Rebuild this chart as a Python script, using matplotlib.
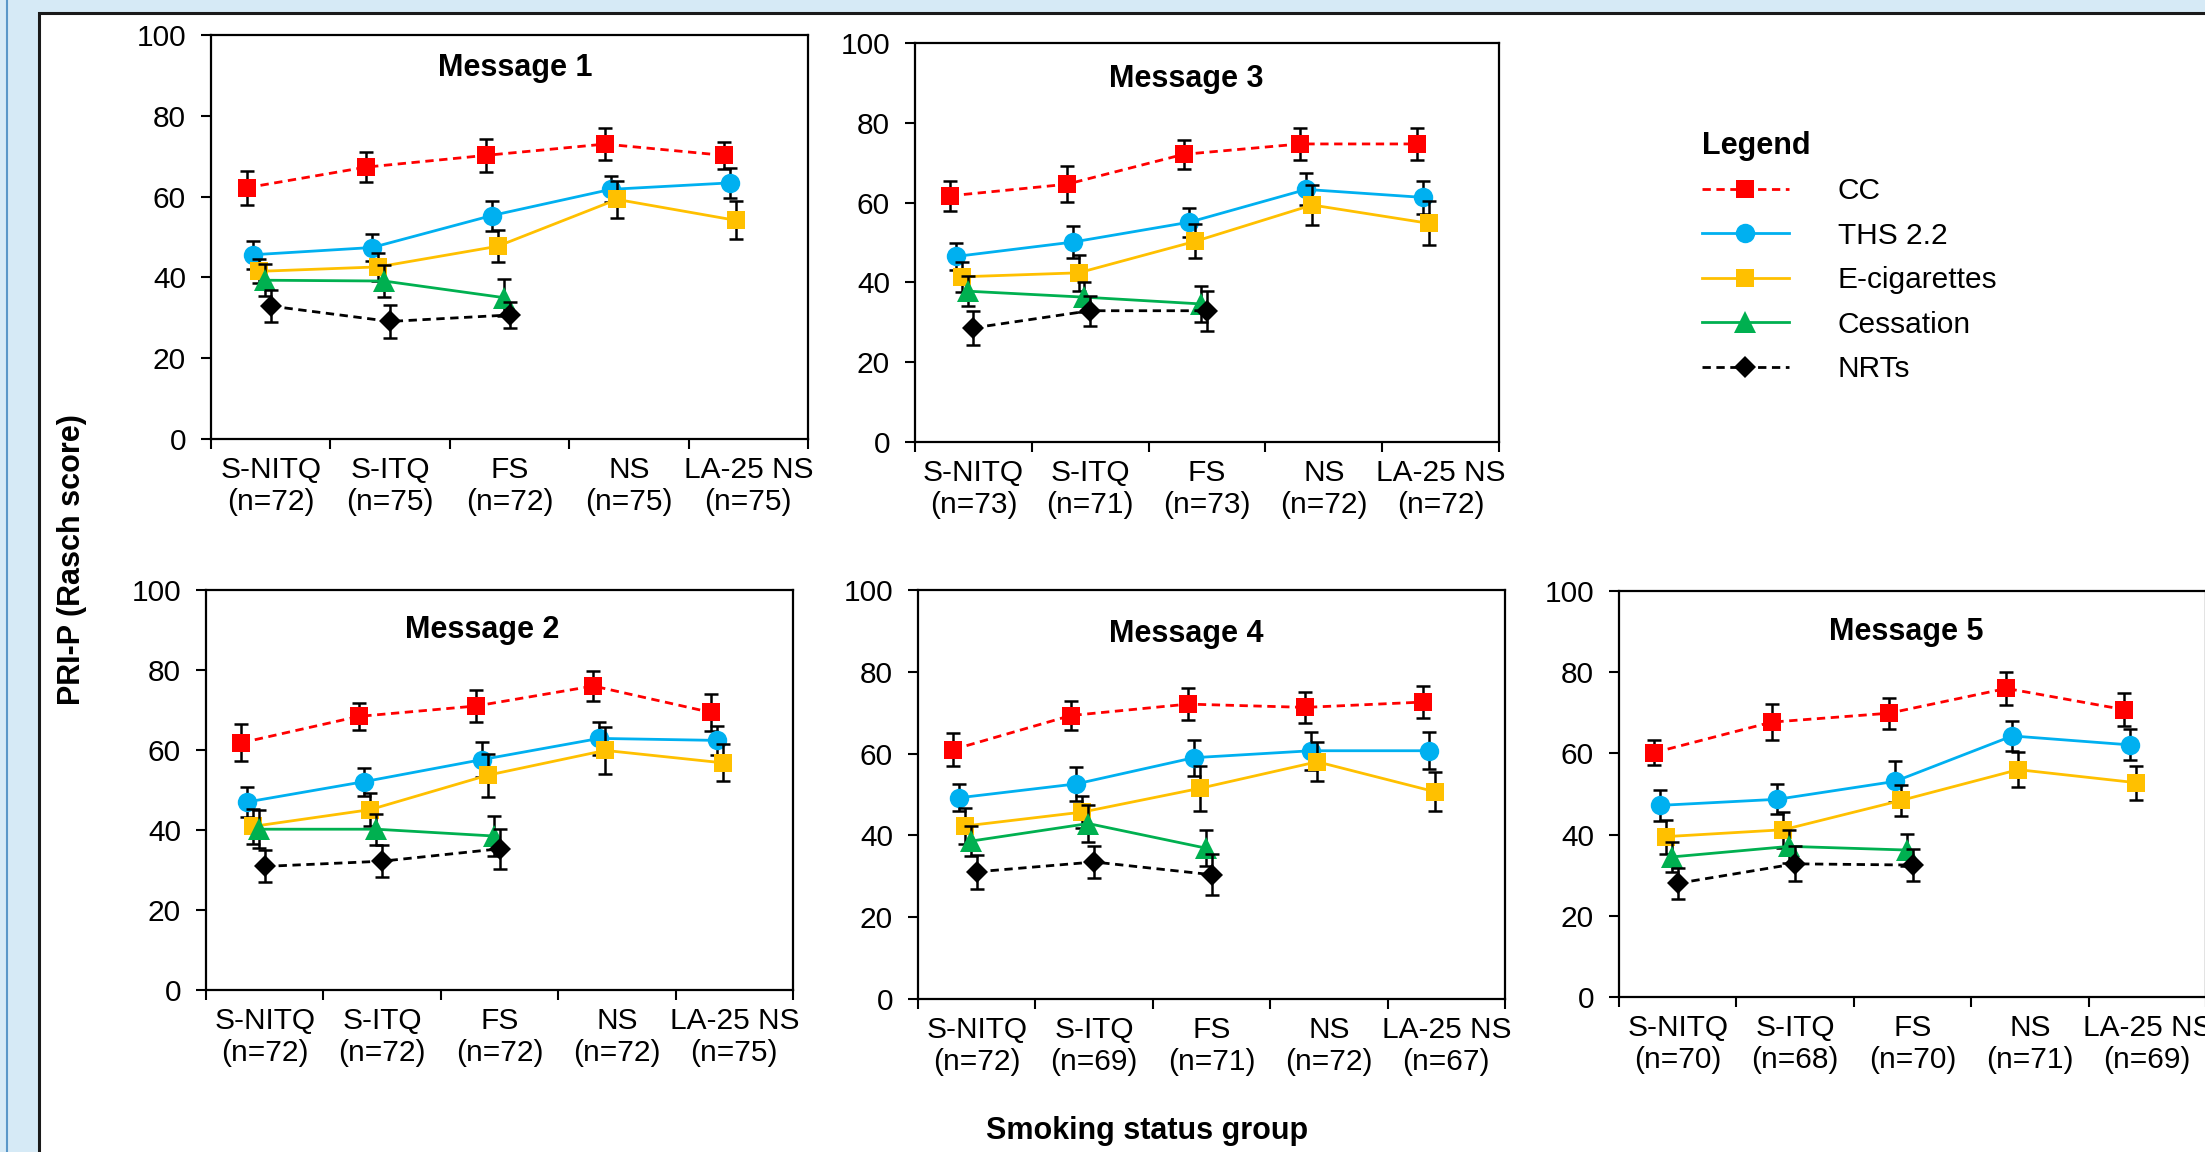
import numpy as np
import matplotlib
matplotlib.use("Agg")
import matplotlib.pyplot as plt
from matplotlib.lines import Line2D
from matplotlib.patches import Rectangle

plt.rcParams['font.family'] = ['Liberation Sans', 'DejaVu Sans']

# categories and group sizes
groups = ['S-NITQ', 'S-ITQ', 'FS', 'NS', 'LA-25 NS']
messages = ['Message 1', 'Message 2', 'Message 3', 'Message 4', 'Message 5']
n_sizes = [[72, 75, 72, 75, 75],
           [72, 72, 72, 72, 75],
           [73, 71, 73, 72, 72],
           [72, 69, 71, 72, 67],
           [70, 68, 70, 71, 69]]

# mean PRI-P scores, one row per message (1..5)
cc = [[62.2, 67.3, 70.2, 73.0, 70.2],
      [61.8, 68.4, 71.0, 76.0, 69.4],
      [61.7, 64.6, 72.1, 74.7, 74.7],
      [61.0, 69.3, 72.1, 71.3, 72.6],
      [60.2, 67.7, 69.9, 76.0, 70.8]]
cc_err = [[4.2, 3.8, 4.0, 4.0, 3.3],
          [4.6, 3.4, 4.1, 3.8, 4.7],
          [3.7, 4.5, 3.6, 4.1, 4.0],
          [4.0, 3.5, 3.9, 3.8, 4.0],
          [3.1, 4.5, 3.8, 4.0, 4.0]]

ths = [[45.6, 47.4, 55.3, 61.8, 63.4],
       [47.0, 52.1, 57.6, 62.9, 62.4],
       [46.5, 50.1, 55.1, 63.3, 61.3],
       [49.2, 52.6, 59.0, 60.7, 60.7],
       [47.2, 48.7, 53.1, 64.3, 62.1]]
ths_err = [[3.4, 3.3, 3.7, 3.2, 3.7],
           [3.8, 3.5, 4.4, 4.2, 3.7],
           [3.4, 4.0, 3.6, 4.0, 4.2],
           [3.3, 4.1, 4.4, 4.6, 4.5],
           [3.8, 3.7, 5.0, 3.8, 3.8]]

ecig = [[41.5, 42.6, 47.7, 59.3, 54.1],
        [40.9, 45.1, 53.7, 59.9, 56.8],
        [41.4, 42.4, 50.3, 59.4, 54.8],
        [42.3, 45.7, 51.5, 58.0, 50.7],
        [39.5, 41.2, 48.4, 56.0, 52.8]]
ecig_err = [[3.0, 3.5, 4.0, 4.6, 4.7],
            [4.3, 4.2, 5.4, 5.9, 4.6],
            [3.8, 4.5, 4.3, 4.9, 5.5],
            [4.3, 4.0, 5.5, 4.8, 4.8],
            [4.2, 4.4, 3.7, 4.3, 4.2]]

# cessation and NRTs only shown for the first three groups
cess = [[39.3, 39.1, 35.0],
        [40.2, 40.2, 38.5],
        [37.8, 36.3, 34.6],
        [38.6, 42.9, 36.9],
        [34.5, 37.1, 36.2]]
cess_err = [[4.0, 4.0, 4.5],
            [4.7, 3.9, 5.0],
            [3.8, 3.7, 4.5],
            [3.6, 4.5, 4.3],
            [3.8, 4.0, 4.0]]

nrt = [[32.9, 29.1, 30.7],
       [30.9, 32.2, 35.3],
       [28.6, 32.9, 32.9],
       [31.1, 33.5, 30.4],
       [28.0, 32.8, 32.5]]
nrt_err = [[4.0, 4.0, 3.2],
           [4.0, 4.0, 5.0],
           [4.3, 3.8, 5.0],
           [4.2, 4.0, 5.0],
           [3.8, 4.3, 4.0]]

series_names = ['CC', 'THS 2.2', 'E-cigarettes', 'Cessation', 'NRTs']

# styles
styles = [
    dict(color='#FF0000', marker='s', ms=13.5, ls=(0, (3, 2)), shift=-0.20),
    dict(color='#00B0F0', marker='o', ms=14, ls='-', shift=-0.15),
    dict(color='#FFC000', marker='s', ms=13.5, ls='-', shift=-0.10),
    dict(color='#00B050', marker='^', ms=15.5, ls='-', shift=-0.05),
    dict(color='#000000', marker='D', ms=11.5, ls=(0, (3, 2)), shift=0.0),
]

W, H = 2205, 1152
fig = plt.figure(figsize=(W / 100, H / 100), dpi=100, facecolor='#D6EAF6')

# white panel with dark border, behind everything
fig.patches.append(Rectangle((39 / W, -0.05), 1.1, 1 - 13 / H + 0.05,
                             transform=fig.transFigure, facecolor='white',
                             edgecolor='#1A1A1A', linewidth=2.2, zorder=-10))
fig.lines.append(Line2D([7 / W, 7 / W], [0, 1], transform=fig.transFigure,
                        color='#5A97C8', linewidth=1.5, zorder=-10))

# axes boxes in pixels: x0, y_top, x1, y_bottom  (message order 1..5)
boxes = [(211, 35, 808, 439),
         (206, 590, 793, 990),
         (915, 43, 1499, 442),
         (918, 590, 1505, 999),
         (1619, 591, 2206, 997)]
title_pos = [(0.51, 0.918), (0.47, 0.90), (0.464, 0.911), (0.457, 0.893), (0.49, 0.90)]

x = np.arange(len(groups))
all_vals = [cc, ths, ecig, cess, nrt]
all_errs = [cc_err, ths_err, ecig_err, cess_err, nrt_err]

for m in range(5):
    x0, yt, x1, yb = boxes[m]
    ax = fig.add_axes([x0 / W, 1 - yb / H, (x1 - x0) / W, (yb - yt) / H])
    ax.patch.set_alpha(0)
    for s in range(5):
        st = styles[s]
        vals = np.array(all_vals[s][m])
        errs = np.array(all_errs[s][m])
        xs = x[:len(vals)] + st['shift']
        ax.errorbar(xs, vals, yerr=errs, fmt='none', ecolor='black',
                    elinewidth=1.8, capsize=5, capthick=1.8, zorder=2 + s)
        ax.plot(xs, vals, color=st['color'], linestyle=st['ls'], linewidth=2.0,
                marker=st['marker'], markersize=st['ms'], markeredgewidth=0,
                zorder=2.5 + s)

    ax.set_xlim(-0.5, 4.5)
    ax.set_ylim(0, 100)
    ax.set_yticks([0, 20, 40, 60, 80, 100])
    ax.set_xticks(np.arange(-0.5, 5.0, 1.0))
    ax.set_xticks(x, minor=True)
    ax.set_xticklabels([])
    ax.set_xticklabels(['%s\n(n=%d)' % (g, n) for g, n in zip(groups, n_sizes[m])],
                       minor=True)
    ax.tick_params(axis='y', direction='out', length=7, width=1.5,
                   labelsize=21.5, pad=11)
    ax.tick_params(axis='x', which='major', direction='out', length=7, width=1.5)
    ax.tick_params(axis='x', which='minor', length=0, labelsize=21.5, pad=12)
    for sp in ax.spines.values():
        sp.set_linewidth(1.6)
        sp.set_color('black')
    ax.text(title_pos[m][0], title_pos[m][1], messages[m], transform=ax.transAxes,
            ha='center', va='center', fontsize=22, fontweight='bold')

# legend
handles = [Line2D([], [], color=st['color'], linestyle=st['ls'], linewidth=2.0,
                  marker=st['marker'], markersize=st['ms'], markeredgewidth=0)
           for st in styles]
leg = fig.legend(handles, series_names, title='Legend', loc='upper left',
                 bbox_to_anchor=(1702 / W, 1 - 131 / H), frameon=False,
                 alignment='left', fontsize=21.5, handlelength=2.9,
                 handletextpad=1.65, labelspacing=0.55, borderpad=0,
                 borderaxespad=0,
                 title_fontproperties={'weight': 'bold', 'size': 22})

fig.text(72 / W, 1 - 560 / H, 'PRI-P (Rasch score)', rotation=90,
         ha='center', va='center', fontsize=22, fontweight='bold')
fig.text(1147 / W, 1 - 1131 / H, 'Smoking status group',
         ha='center', va='center', fontsize=22, fontweight='bold')

fig.savefig('out.png', dpi=100, facecolor=fig.get_facecolor())
